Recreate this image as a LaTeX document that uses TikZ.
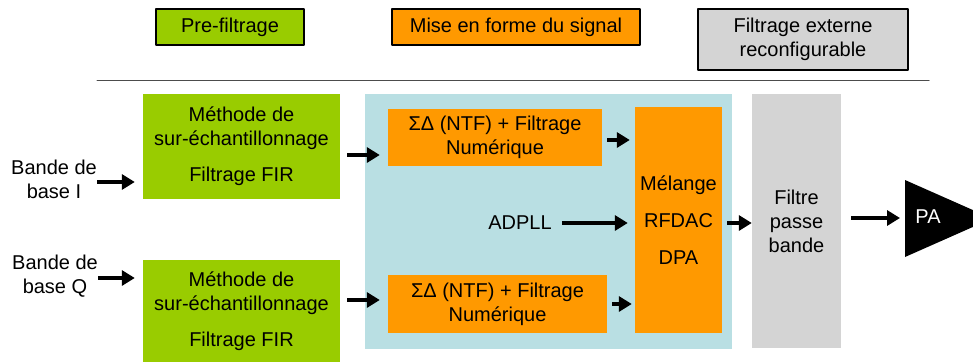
\documentclass[tikz,border=0pt]{standalone}
\usepackage{fontspec}
\setmainfont{Liberation Sans}
\usepackage{tikz}
\usetikzlibrary{arrows.meta}

\definecolor{vertpre}{HTML}{99CC00}
\definecolor{orangesig}{HTML}{FF9900}
\definecolor{grisfiltre}{HTML}{D4D4D4}
\definecolor{bleufond}{HTML}{B9DFE3}

\begin{document}
\begin{tikzpicture}[line cap=round,line join=round,>={Triangle[length=13pt,width=15pt]},x=1pt,y=-1pt,
		every node/.style={font=\fontsize{20}{24}\selectfont,inner sep=0pt,align=center},
		legende/.style={rectangle,draw=black,line width=2.5pt},
		bloc/.style={rectangle,draw=none},
		flow/.style={->,line width=4pt,line cap=butt}]
		\useasboundingbox (0,0) rectangle (973,362);

		% Legende
		\node[legende,fill=vertpre,minimum width=148,minimum height=36] (legpre) at (230,27) {Pre-filtrage};
		\node[legende,fill=orangesig,minimum width=248,minimum height=36] (legmef) at (516,27) {Mise en forme du signal};
		\node[legende,fill=grisfiltre,minimum width=210,minimum height=61] (legext) at (803,39.5) {Filtrage externe\\reconfigurable};
		\draw[color=black!70,line width=1pt] (97,80) -- (929,80);

		% Fond mise en forme
		\fill[bleufond] (365,94) rectangle (732,349);

		% Pre-filtrage
		\node[bloc,fill=vertpre,minimum width=197,minimum height=105] (firi) at (241.5,146.5) {M\'ethode de\\sur-\'echantillonnage\\[12pt]Filtrage FIR};
		\node[bloc,fill=vertpre,minimum width=197,minimum height=102] (firq) at (241.5,311) {M\'ethode de\\sur-\'echantillonnage\\[12pt]Filtrage FIR};

		% Mise en forme du signal
		\node[bloc,fill=orangesig,minimum width=214,minimum height=57] (sdi) at (495,137.5) {ΣΔ (NTF) + Filtrage\\Num\'erique};
		\node[bloc,fill=orangesig,minimum width=219,minimum height=58] (sdq) at (497.5,304) {ΣΔ (NTF) + Filtrage\\Num\'erique};
		\node[bloc,fill=orangesig,minimum width=87,minimum height=226] (mix) at (678.5,220) {M\'elange\\[13pt]RFDAC\\[13pt]DPA};
		\node (adpll) at (520,223) {ADPLL};

		% Filtrage externe et PA
		\node[bloc,fill=grisfiltre,minimum width=89,minimum height=254] (bpf) at (796.5,221) {Filtre\\passe\\bande};
		\fill[black] (905,180) -- (992,218.5) -- (905,257) -- cycle;
		\coordinate (pa) at (905,218);
		\node[text=white] (patxt) at (928,217) {PA};

		% Entrees
		\node (bbi) at (54,179) {Bande de\\base I};
		\node (bbq) at (55,276) {Bande de\\base Q};

		% Liaisons
		\draw[flow,shorten >=8pt] ([yshift=-3pt]bbi.east) -- ([yshift=-3pt]bbi.east -| firi.west);
		\draw[flow,shorten >=8pt] ([yshift=-2pt]bbq.east) -- ([yshift=-2pt]bbq.east -| firq.west);
		\draw[flow,shorten <=7pt,shorten >=8pt] ([yshift=-8.5pt]firi.east) -- ([yshift=-8.5pt]firi.east -| sdi.west);
		\draw[flow,shorten <=7pt,shorten >=8pt] ([yshift=11pt]firq.east) -- ([yshift=11pt]firq.east -| sdq.west);
		\draw[flow,shorten <=5pt,shorten >=5pt] ([yshift=-2.5pt]sdi.east) -- ([yshift=-2.5pt]sdi.east -| mix.west);
		\draw[flow,shorten <=5pt,shorten >=3pt] (sdq.east) -- (sdq.east -| mix.west);
		\draw[flow,shorten <=10pt,shorten >=7pt] (adpll.east) -- (adpll.east -| mix.west);
		\draw[flow,shorten <=5pt] ([yshift=-3pt]mix.east) -- ([yshift=-3pt]mix.east -| bpf.west);
		\draw[flow,shorten <=10pt,shorten >=5pt] (bpf.east |- pa) -- (pa);
	\end{tikzpicture}
\end{document}
